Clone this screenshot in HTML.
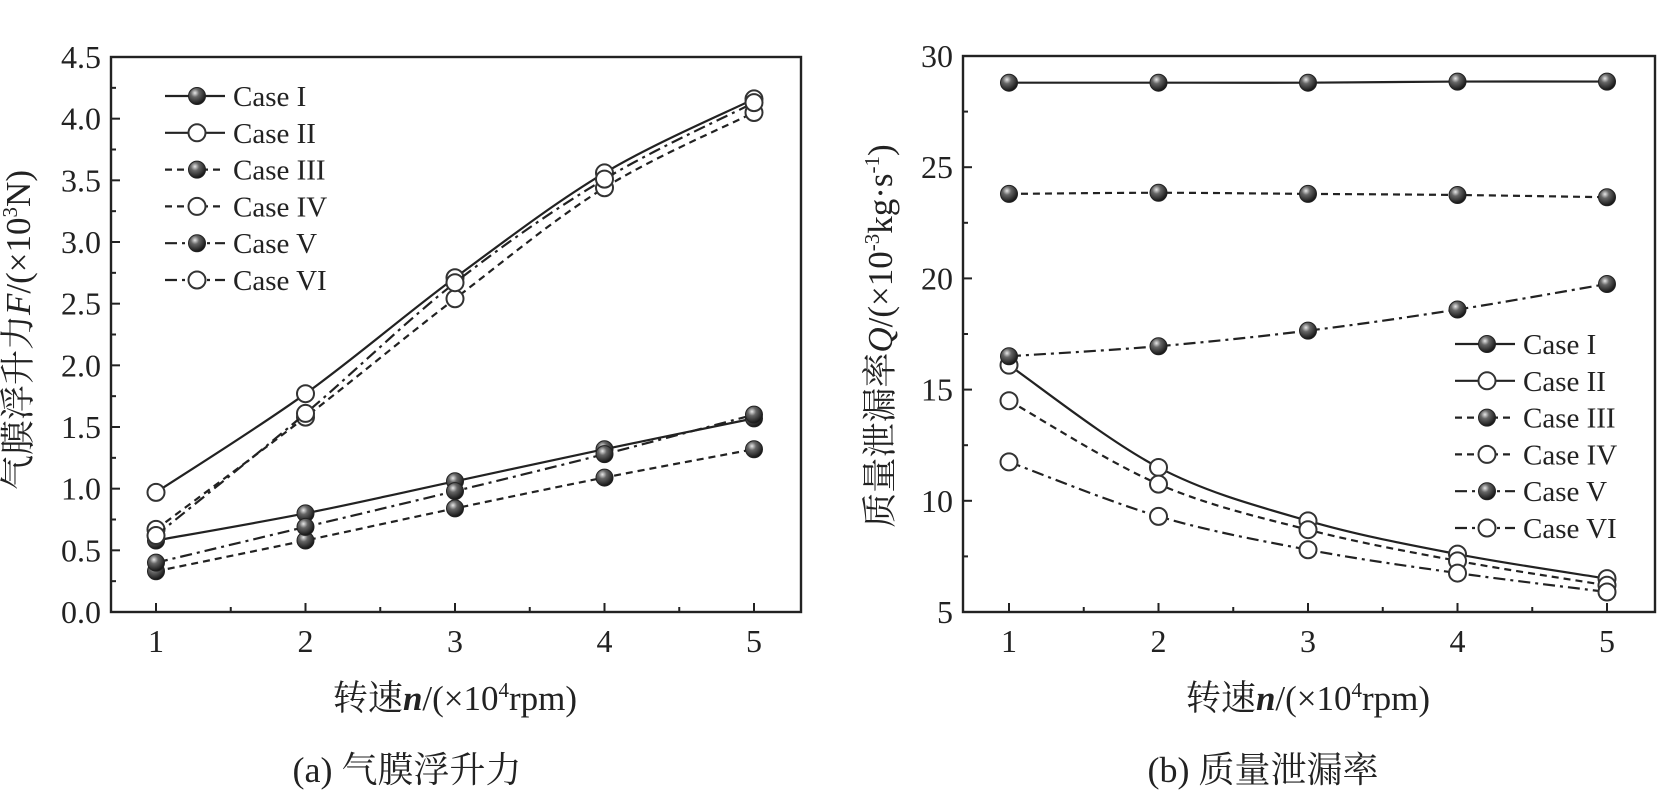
<!DOCTYPE html>
<html><head><meta charset="utf-8"><style>
body{margin:0;background:#fff}
svg{display:block}
text{font-family:"Liberation Serif","Noto Serif CJK SC",serif;fill:#222}
</style></head><body>
<svg id="svg" width="1670" height="811" viewBox="0 0 1670 811">
<defs>
<radialGradient id="ball" cx="0.38" cy="0.32" r="0.7">
<stop offset="0" stop-color="#e8e8e8"/><stop offset="0.35" stop-color="#666"/><stop offset="1" stop-color="#111"/>
</radialGradient>
</defs>
</svg>
<script>
const xCats=[1,2,3,4,5];
const caseNames=["Case I","Case II","Case III","Case IV","Case V","Case VI"];
const fI=[0.58,0.80,1.06,1.32,1.57];
const fII=[0.97,1.77,2.71,3.56,4.16];
const fIII=[0.33,0.58,0.84,1.09,1.32];
const fIV=[0.67,1.58,2.54,3.44,4.05];
const fV=[0.40,0.69,0.98,1.28,1.60];
const fVI=[0.62,1.61,2.67,3.51,4.13];
const qI=[28.8,28.8,28.8,28.85,28.85];
const qII=[16.1,11.5,9.1,7.6,6.5];
const qIII=[23.8,23.85,23.8,23.75,23.65];
const qIV=[14.5,10.75,8.7,7.3,6.2];
const qV=[16.5,16.95,17.65,18.6,19.75];
const qVI=[11.75,9.3,7.8,6.75,5.9];
const fTicks=["0.0","0.5","1.0","1.5","2.0","2.5","3.0","3.5","4.0","4.5"];
const qTicks=["5","10","15","20","25","30"];

const svg=document.getElementById('svg');
const NS="http://www.w3.org/2000/svg";
function mk(tag,attrs,parent){const e=document.createElementNS(NS,tag);for(const k in attrs)e.setAttribute(k,attrs[k]);(parent||svg).appendChild(e);return e;}
const dashes=["","","7,5","7,5","12,5,3,5","12,5,3,5"];
const filled=[true,false,true,false,true,false];

function panel(o){
  const g=mk('g',{});
  
  
  const X=v=>o.x1+(v-1)*(o.x5-o.x1)/4;
  const Y=v=>o.yb-(v-o.ymin)*(o.yb-o.yt)/(o.ymax-o.ymin);
  const fr=mk('rect',{x:o.L,y:o.yt,width:o.R-o.L,height:o.yb-o.yt,fill:'none',stroke:'#222','stroke-width':2.4},g);
  
  for(let i=0;i<xCats.length;i++){
    const v=xCats[i];
    mk('line',{x1:X(v),x2:X(v),y1:o.yb,y2:o.yb-9,stroke:'#222','stroke-width':2},g);
    if(i<4)mk('line',{x1:X(v+0.5),x2:X(v+0.5),y1:o.yb,y2:o.yb-5,stroke:'#222','stroke-width':2},g);
    const t=mk('text',{x:X(v),y:o.yb+40,'text-anchor':'middle','font-size':32},g);t.textContent=v;
    
  }
  for(let i=0;i<o.ticks.length;i++){
    const v=o.ymin+i*o.step;
    mk('line',{x1:o.L,x2:o.L+9,y1:Y(v),y2:Y(v),stroke:'#222','stroke-width':2},g);
    if(i<o.ticks.length-1)mk('line',{x1:o.L,x2:o.L+5,y1:Y(v+o.step/2),y2:Y(v+o.step/2),stroke:'#222','stroke-width':2},g);
    const t=mk('text',{x:o.L-10,y:Y(v)+11,'text-anchor':'end','font-size':32},g);t.textContent=o.ticks[i];
    
  }
  o.series.forEach((s,si)=>{
    const pts=s.map((v,i)=>[X(xCats[i]),Y(v)]);
    let d="M"+pts[0][0]+","+pts[0][1];
    for(let i=0;i<pts.length-1;i++){
      const p0=pts[Math.max(0,i-1)],p1=pts[i],p2=pts[i+1],p3=pts[Math.min(pts.length-1,i+2)];
      const c1=[p1[0]+(p2[0]-p0[0])/6,p1[1]+(p2[1]-p0[1])/6];
      const c2=[p2[0]-(p3[0]-p1[0])/6,p2[1]-(p3[1]-p1[1])/6];
      d+=" C"+c1+" "+c2+" "+p2;
    }
    const ln=mk('path',{d:d,fill:'none',stroke:'#222','stroke-width':2.2,'stroke-dasharray':dashes[si]},g);
    
    pts.forEach(p=>{
      const c=mk('circle',{cx:p[0],cy:p[1],r:8.5,fill:filled[si]?'url(#ball)':'#fff',stroke:filled[si]?'#222':'#333','stroke-width':filled[si]?1:2},g);
      
    });
  });
  const lg=mk('g',{},g);
  
  caseNames.forEach((n,i)=>{
    const y=o.legY+i*o.legDY;
    const e=mk('g',{},lg);
    
    mk('line',{x1:o.legX,x2:o.legX+60,y1:y,y2:y,stroke:'#222','stroke-width':2.2,'stroke-dasharray':dashes[i]},e);
    mk('circle',{cx:o.legX+32,cy:y,r:8.5,fill:filled[i]?'url(#ball)':'#fff',stroke:filled[i]?'#222':'#333','stroke-width':filled[i]?1:2},e);
    const t=mk('text',{x:o.legX+68,y:y+10,'font-size':29},e);t.textContent=n;
  });
}
panel({name:'lift-force-chart',L:111,R:801,yt:57,yb:612,x1:156,x5:754,ymin:0,ymax:4.5,step:0.5,ticks:fTicks,
  series:[fI,fII,fIII,fIV,fV,fVI],legX:165,legY:96,legDY:36.8});
panel({name:'leakage-rate-chart',L:963,R:1655,yt:56,yb:612,x1:1009,x5:1607,ymin:5,ymax:30,step:5,ticks:qTicks,
  series:[qI,qII,qIII,qIV,qV,qVI],legX:1455,legY:344,legDY:36.8});
</script>
<svg width="1670" height="811" style="position:absolute;left:0;top:0">
<text x="30" y="330" transform="rotate(-90 30 330)" text-anchor="middle" font-size="35">气膜浮升力<tspan font-style="italic">F</tspan>/(×10<tspan font-size="21" dy="-13">3</tspan><tspan dy="13">N)</tspan></text>
<text x="892" y="336" transform="rotate(-90 892 336)" text-anchor="middle" font-size="35">质量泄漏率<tspan font-style="italic">Q</tspan>/(×10<tspan font-size="21" dy="-13">-3</tspan><tspan dy="13">kg·s</tspan><tspan font-size="21" dy="-13">-1</tspan><tspan dy="13">)</tspan></text>
<text x="455" y="710" text-anchor="middle" font-size="35">转速<tspan font-style="italic" font-weight="bold">n</tspan>/(×10<tspan font-size="21" dy="-13">4</tspan><tspan dy="13">rpm)</tspan></text>
<text x="1308" y="710" text-anchor="middle" font-size="35">转速<tspan font-style="italic" font-weight="bold">n</tspan>/(×10<tspan font-size="21" dy="-13">4</tspan><tspan dy="13">rpm)</tspan></text>
<text x="407" y="782" text-anchor="middle" font-size="36">(a) 气膜浮升力</text>
<text x="1263" y="782" text-anchor="middle" font-size="36">(b) 质量泄漏率</text>
</svg>
</body></html>
